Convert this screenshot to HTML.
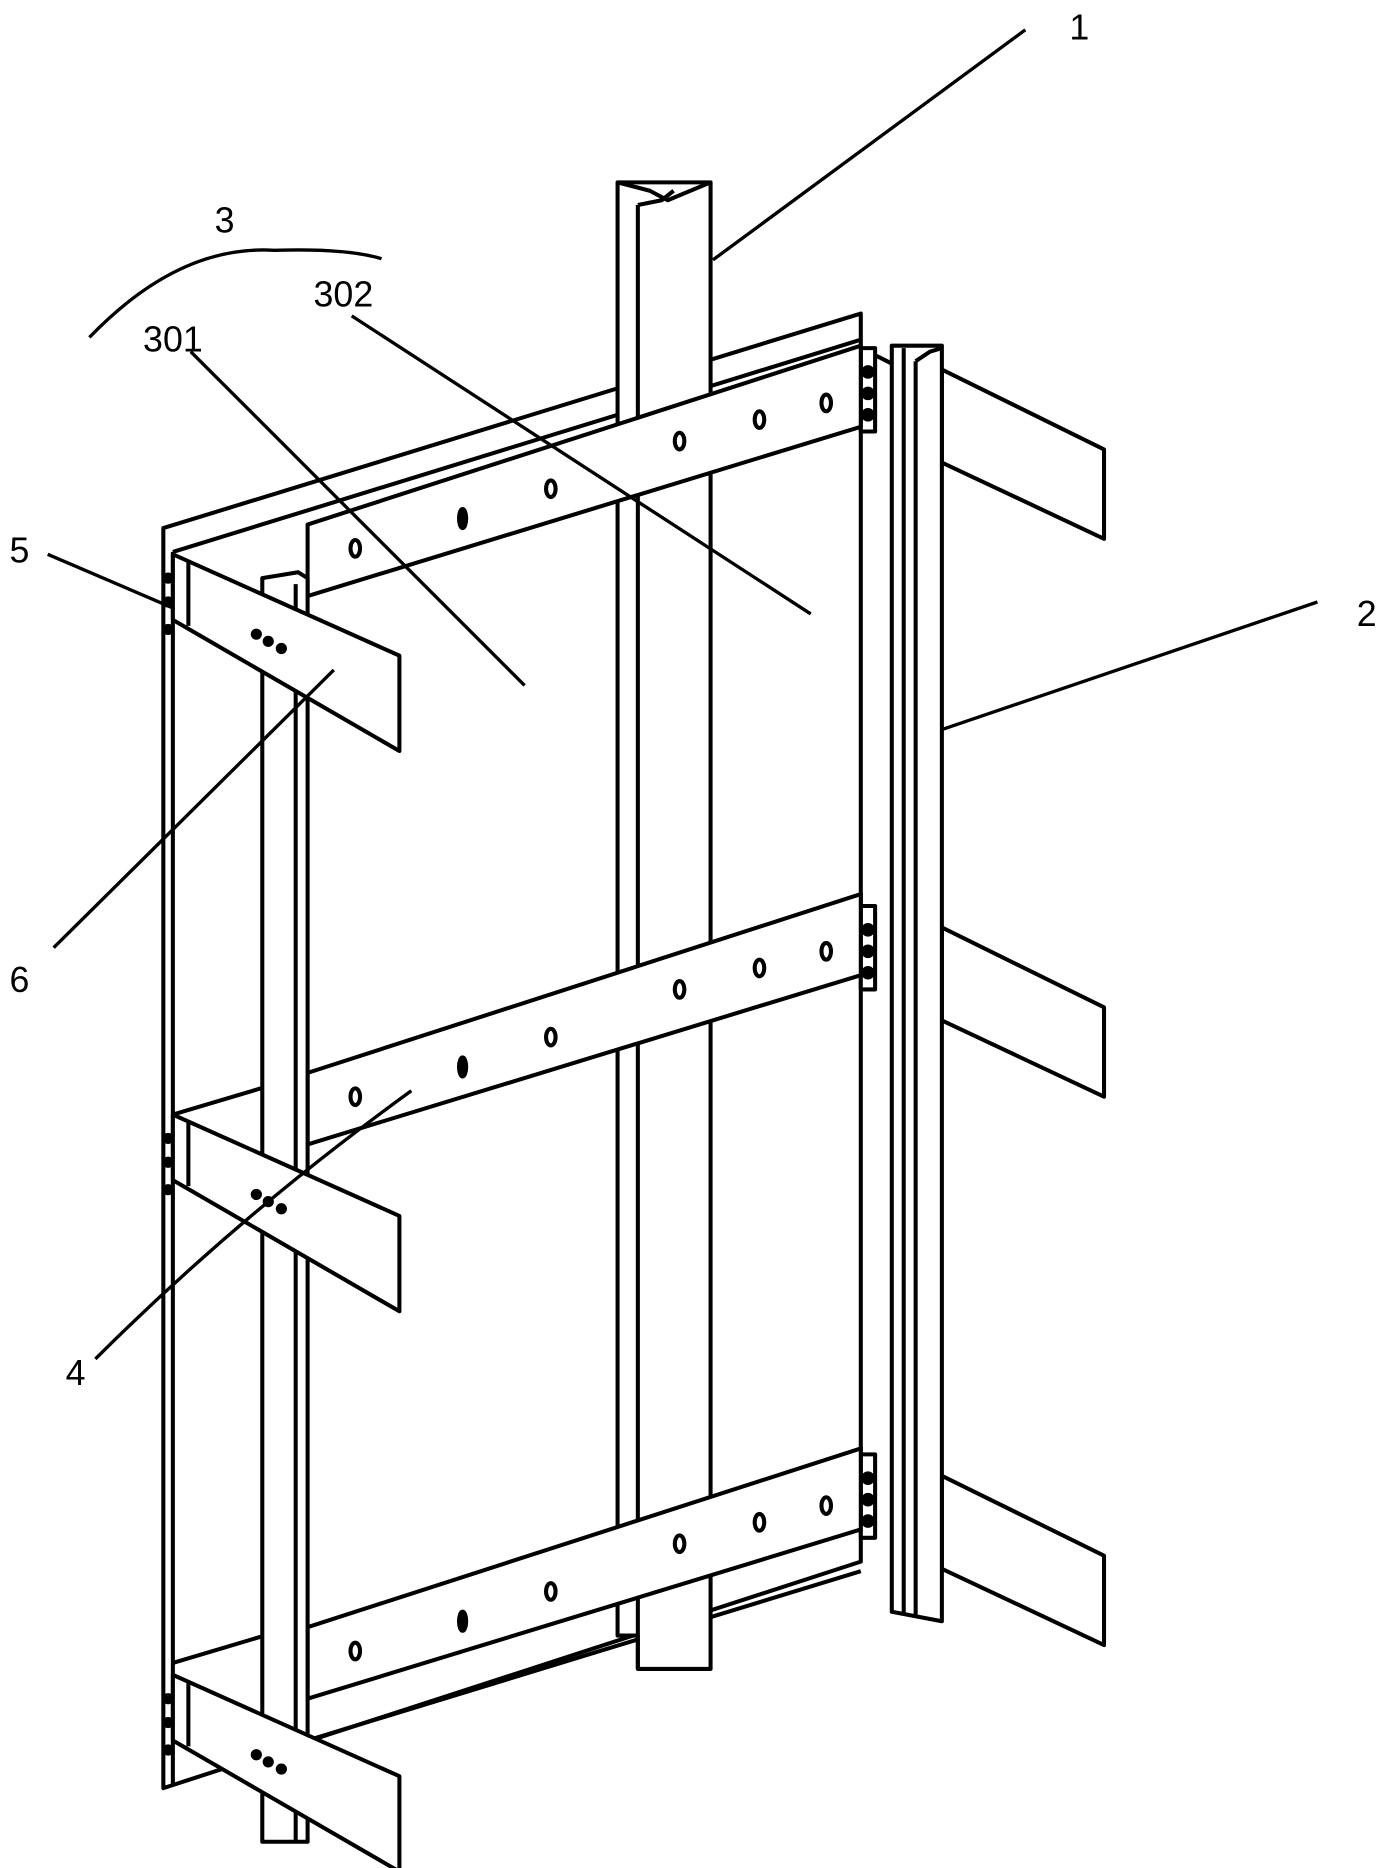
<!DOCTYPE html>
<html><head><meta charset="utf-8"><style>
html,body{margin:0;padding:0;background:#fff;}
svg{display:block;}
text{font-family:"Liberation Sans",sans-serif;font-size:30px;fill:#000;}
</style></head><body>
<svg width="1383" height="1868" viewBox="0 0 1160 1567" preserveAspectRatio="none" xmlns="http://www.w3.org/2000/svg">
<g stroke="#000" stroke-width="3.4" fill="#fff" stroke-linejoin="round">
<!-- panel -->
<polygon points="137,443 722,263 722,1310 137,1500"/>
<line x1="145" y1="463" x2="722" y2="285"/>
<line x1="145" y1="463" x2="145" y2="1498"/>
<line x1="145" y1="935" x2="222" y2="912"/>
<line x1="145" y1="1395" x2="222" y2="1372"/>
<line x1="258" y1="1460" x2="722" y2="1318"/>
<!-- column 1 -->
<polygon points="518,153 596,153 596,1400 535,1400 535,1372 518,1372"/>
<line x1="535" y1="172" x2="535" y2="1400"/>
<path d="M518,153 L545,160 L560,168 L596,153" fill="none"/>
<path d="M535,172 L555,168 L565,160" fill="none"/>
<!-- right plates (behind col 2) -->
<g id="rp">
<polygon points="790,310 926,377 926,452 790,388"/>
<rect x="722" y="292" width="12" height="70"/>
<circle cx="728" cy="312" r="4" fill="#000"/><circle cx="728" cy="330" r="4" fill="#000"/><circle cx="728" cy="348" r="4" fill="#000"/>
</g>
<use href="#rp" y="468"/>
<use href="#rp" y="928"/>
<!-- column 2 -->
<polygon points="748,290 790,290 790,1360 748,1352"/>
<line x1="758" y1="292" x2="758" y2="1355"/>
<line x1="768" y1="303" x2="768" y2="1357"/>
<path d="M768,303 L780,295 L790,292" fill="none"/>
<line x1="734" y1="298" x2="748" y2="305"/>
<!-- main walers -->
<g id="w">
<polygon points="258,440 722,290 722,358 258,500"/>
<ellipse cx="298" cy="460" rx="4" ry="7"/>
<ellipse cx="388" cy="435" rx="3" ry="8" fill="#000"/>
<ellipse cx="462" cy="410" rx="4" ry="7"/>
<ellipse cx="570" cy="370" rx="4" ry="7"/>
<ellipse cx="637" cy="352" rx="4" ry="7"/>
<ellipse cx="693" cy="338" rx="4" ry="7"/>
</g>
<use href="#w" y="460"/>
<use href="#w" y="925"/>
<!-- left column -->
<polygon points="220,485 250,480 258,485 258,1545 220,1545"/>
<line x1="248" y1="490" x2="248" y2="1545"/>
<!-- left plates -->
<g id="lp">
<polygon points="145,465 335,550 335,630 145,520"/>
<line x1="158" y1="472" x2="158" y2="525"/>
<circle cx="141" cy="485" r="3" fill="#000"/><circle cx="141" cy="505" r="3" fill="#000"/><circle cx="141" cy="528" r="3" fill="#000"/>
<circle cx="215" cy="532" r="3" fill="#000"/><circle cx="225" cy="538" r="3" fill="#000"/><circle cx="236" cy="544" r="3" fill="#000"/>
</g>
<use href="#lp" y="470"/>
<use href="#lp" y="940"/>
<!-- leader lines -->
<g fill="none" stroke-width="2.8">
<line x1="860" y1="25" x2="598" y2="218"/>
<line x1="1105" y1="505" x2="790" y2="612"/>
<path d="M75,283 Q150,205 230,210 Q290,208 320,217"/>
<line x1="160" y1="295" x2="440" y2="575"/>
<line x1="295" y1="265" x2="680" y2="515"/>
<line x1="40" y1="465" x2="145" y2="510"/>
<line x1="45" y1="795" x2="280" y2="562"/>
<path d="M80,1140 Q200,1020 345,915"/>
</g>
</g>
<text x="897" y="33">1</text>
<text x="1138" y="525">2</text>
<text x="180" y="195">3</text>
<text x="120" y="295">301</text>
<text x="263" y="257">302</text>
<text x="8" y="472">5</text>
<text x="8" y="832">6</text>
<text x="55" y="1162">4</text>
</svg>
</body></html>
